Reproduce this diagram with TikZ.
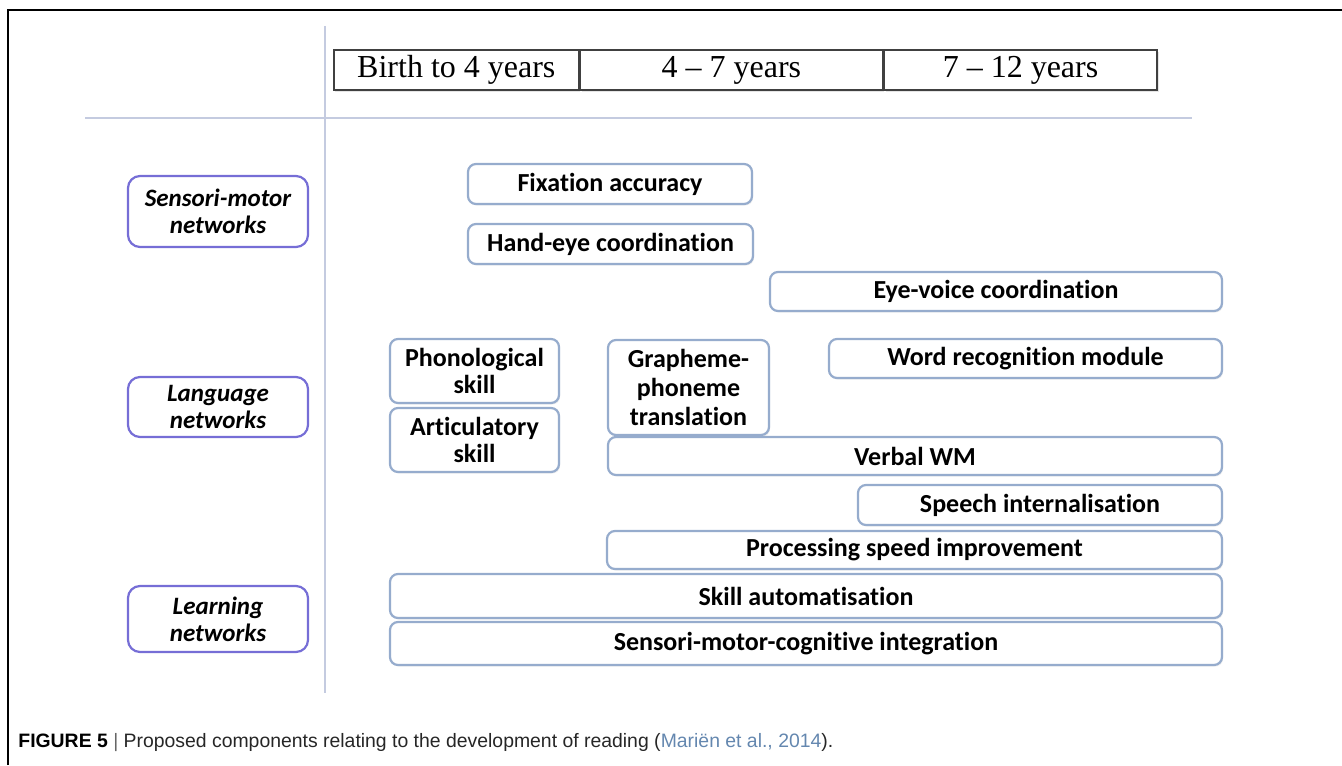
\documentclass[tikz,border=0pt]{standalone}
\usepackage{fontspec}
\setmainfont[Ligatures=NoCommon]{Carlito}
\newfontfamily\headfont{Liberation Serif}
\newfontfamily\capfont{Liberation Sans}
\usetikzlibrary{positioning,shadows}
\definecolor{boxline}{RGB}{150,172,205}
\definecolor{netline}{RGB}{118,110,214}
\definecolor{rule}{RGB}{196,203,224}
\definecolor{citeblue}{RGB}{100,135,175}
\begin{document}
\begin{tikzpicture}[x=0.5pt,y=-0.5pt,
    agebox/.style={draw=black!75,fill=white,line width=0.8pt,minimum height=20pt,inner sep=0pt,
      font=\headfont\fontsize{16}{18}\selectfont,
      drop shadow={shadow xshift=0.8pt,shadow yshift=-0.8pt,fill=black!20}},
    netbox/.style={draw=netline,line width=1.1pt,rounded corners=6pt,fill=white,align=center,
      minimum width=90pt,inner sep=0pt,font=\bfseries\itshape\fontsize{12.5}{13.5}\selectfont},
    skillbox/.style={draw=boxline,line width=1.1pt,rounded corners=4pt,fill=white,align=center,
      inner sep=0pt,font=\bfseries\fontsize{13}{13.5}\selectfont,
      drop shadow={shadow xshift=0.6pt,shadow yshift=-0.8pt,fill=black!12}}]
  \useasboundingbox (0,0) rectangle (1342,765);
  \draw[line width=0.8pt] (8,765) -- (8,10) -- (1342,10);
  \draw[rule,line width=1pt] (325,26) -- (325,693);
  \draw[rule,line width=1pt] (85,118) -- (1192,118);

  \node[agebox,minimum width=122.5pt,anchor=west] (age1) at (333,70) {Birth to 4 years};
  \node[agebox,minimum width=151pt,right=0pt of age1] (age2) {4 – 7 years};
  \node[agebox,minimum width=136.5pt,right=0pt of age2] (age3) {7 – 12 years};

  \node[netbox,minimum height=35.5pt] (sensori) at (218,211.5) {Sensori-motor\\networks};
  \node[netbox,minimum height=30pt] (language) at (218,407) {Language\\networks};
  \node[netbox,minimum height=33pt] (learning) at (218,619) {Learning\\networks};

  \node[skillbox,minimum width=142pt,minimum height=20pt] (fixation) at (610,184) {Fixation accuracy};
  \node[skillbox,minimum width=142.5pt,minimum height=20pt] (handeye) at (610.5,244) {Hand-eye coordination};
  \node[skillbox,minimum width=226pt,minimum height=19.5pt] (eyevoice) at (996,291.5) {Eye-voice coordination};
  \node[skillbox,minimum width=196.5pt,minimum height=19.5pt] (wordrec) at (1025.5,358.5) {Word recognition module};
  \node[skillbox,minimum width=84.5pt,minimum height=32pt] (phono) at (474.5,371) {Phonological\\skill};
  \node[skillbox,minimum width=84.5pt,minimum height=32pt] (artic) at (474.5,440) {Articulatory\\skill};
  \node[skillbox,minimum width=80.5pt,minimum height=47.5pt,font=\bfseries\fontsize{13}{14.5}\selectfont] (grapheme) at (688.5,387.5) {Grapheme-\\phoneme\\translation};
  \node[skillbox,minimum width=307pt,minimum height=19pt] (verbalwm) at (915,456) {Verbal WM};
  \node[skillbox,minimum width=182pt,minimum height=20pt] (speech) at (1040,505) {Speech internalisation};
  \node[skillbox,minimum width=307.5pt,minimum height=19pt] (procspeed) at (914.5,550) {Processing speed improvement};
  \node[skillbox,minimum width=416pt,minimum height=22pt] (automat) at (806,596) {Skill automatisation};
  \node[skillbox,minimum width=416pt,minimum height=21.5pt] (integr) at (806,643.5) {Sensori-motor-cognitive integration};

  \node[anchor=west,inner sep=0pt,font=\capfont\fontsize{9.7}{11}\selectfont] (caption) at (18,743)
    {\textbf{FIGURE 5} \textcolor{black!60}{|} \textcolor{black!85}{Proposed components relating to the development of reading (}\textcolor{citeblue}{Mariën et al., 2014}\textcolor{black!85}{).}};
\end{tikzpicture}
\end{document}
